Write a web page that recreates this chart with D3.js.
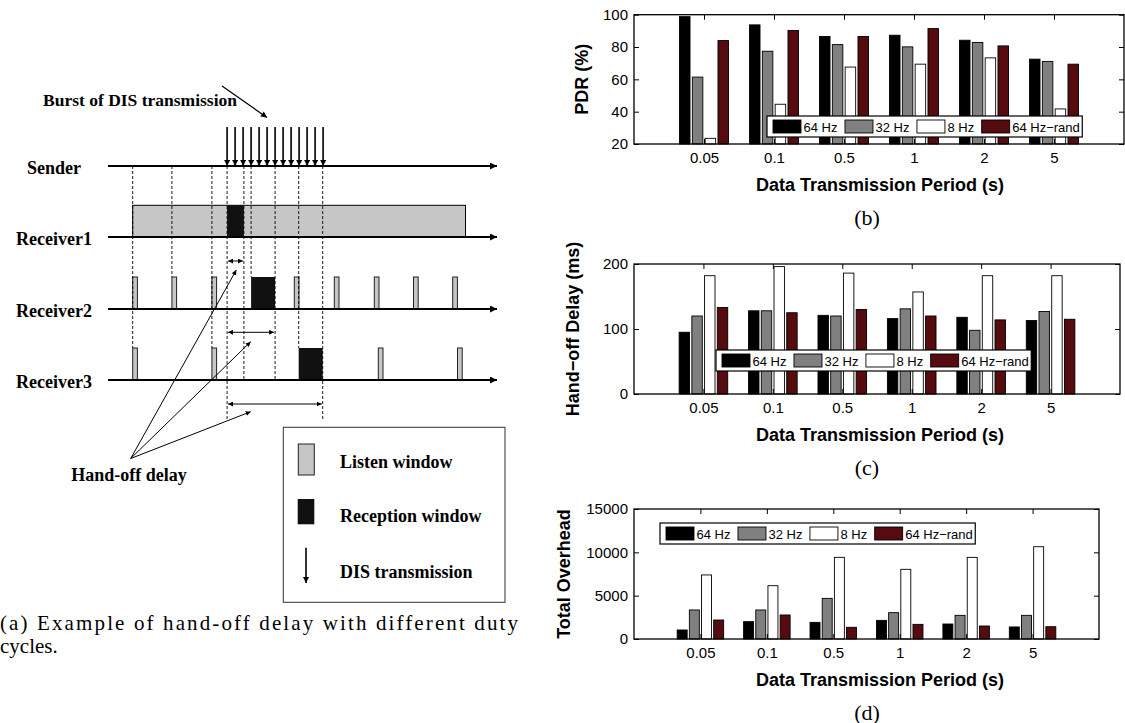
<!DOCTYPE html>
<meta charset="utf-8">
<style>
body { margin: 0; background: #fff; }
.lab { font-family: "Liberation Serif", "Times New Roman", serif; font-weight: bold; font-size: 18px; }
.cap { font-family: "Liberation Serif", "Times New Roman", serif; font-size: 21px; }
.leg { font-family: "Liberation Sans", Arial, sans-serif; font-size: 13px; }
.axlab { font-family: "Liberation Sans", Arial, sans-serif; font-weight: bold; font-size: 18px; }
</style>
<body>
<svg width="1125" height="723"></svg>
<script src="https://d3js.org/d3.v7.min.js"></script>
<script>

// ---- chart data ----
var periods = ["0.05", "0.1", "0.5", "1", "2", "5"];
var series = ["64 Hz", "32 Hz", "8 Hz", "64 Hz\u2212rand"];
var colors = ["#000000", "#808080", "#ffffff", "#560c0e"];

var pdr64   = [98.8, 93.7, 86.5, 87.3, 84.2, 72.5];
var pdr32   = [61.4, 77.4, 81.5, 80.1, 82.8, 71.1];
var pdr8    = [23.5, 44.6, 67.6, 69.4, 73.3, 41.7];
var pdrRand = [84.0, 90.2, 86.5, 91.4, 80.7, 69.4];
var pdrTicks = [20, 40, 60, 80, 100];

var delay64   = [95, 128, 121, 116, 118, 113];
var delay32   = [120, 128, 120, 131, 98, 127];
var delay8    = [182, 196, 186, 157, 182, 182];
var delayRand = [133, 125, 130, 120, 114, 115];
var delayTicks = [0, 100, 200];

var ovh64   = [1040, 2000, 1920, 2150, 1730, 1390];
var ovh32   = [3350, 3350, 4690, 3040, 2730, 2730];
var ovh8    = [7390, 6150, 9420, 8040, 9420, 10650];
var ovhRand = [2190, 2770, 1350, 1690, 1500, 1420];
var ovhTicks = [0, 5000, 10000, 15000];

// ---- diagram data (time in burst slots) ----
var burst = [11.8, 12.8, 13.8, 14.8, 15.8, 16.8, 17.8, 18.8, 19.8, 20.8, 21.8, 22.8, 23.8];
var r1Listen = [0, 41.6];
var r1Recv = [11.8, 13.9];
var r2Listen = [0, 4.9, 9.9, 20.2, 25.2, 30.2, 35.1, 40];
var r2Recv = [14.8, 17.8];
var r3Listen = [0, 9.9, 30.7, 40.6];
var r3Recv = [20.75, 23.75];
var guides = [[0, "r3top"], [4.9, "r2top"], [9.9, "r3top"], [11.8, "low"], [13.9, "r3"],
              [14.8, "r2top"], [17.8, "r3"], [20.75, "r3top"], [23.75, "low"]];
var delays = [[11.8, 13.9], [11.8, 17.8], [11.8, 23.75]];

var svg = d3.select("svg");
var defs = svg.append("defs");

function marker(id, w, h) {
  defs.append("marker").attr("id", id)
      .attr("viewBox", "0 0 10 10").attr("refX", 10).attr("refY", 5)
      .attr("markerWidth", w).attr("markerHeight", h)
      .attr("markerUnits", "userSpaceOnUse")
      .attr("orient", "auto-start-reverse")
    .append("path").attr("d", "M0,0L10,5L0,10z").attr("fill", "#000");
}
marker("big", 10, 7);
marker("mid", 7, 6);
marker("small", 5, 5);

// ================= left diagram =================
var tx = d3.scaleLinear().domain([0, 40]).range([132.7, 452.7]);
var lanes = [
  {name: "Sender", y: 166},
  {name: "Receiver1", y: 237},
  {name: "Receiver2", y: 309},
  {name: "Receiver3", y: 380}
];
var yAt = {r2top: 277, r3top: 348, r3: 380, low: 420};
var dg = svg.append("g");

// receiver1 long listen window
dg.append("rect")
    .attr("x", tx(r1Listen[0])).attr("y", 205.3)
    .attr("width", tx(r1Listen[1]) - tx(r1Listen[0])).attr("height", 237 - 205.3)
    .attr("fill", "#c6c6c6").attr("stroke", "#000").attr("stroke-width", 1);
dg.append("rect")
    .attr("x", tx(r1Recv[0])).attr("y", 205.3)
    .attr("width", tx(r1Recv[1]) - tx(r1Recv[0])).attr("height", 237 - 205.3)
    .attr("fill", "#111");

function listen(list, top, bot) {
  dg.selectAll(null).data(list).enter().append("rect")
      .attr("x", function(d) { return tx(d); }).attr("y", top)
      .attr("width", 4.7).attr("height", bot - top)
      .attr("fill", "#c6c6c6").attr("stroke", "#222").attr("stroke-width", 1);
}
listen(r2Listen, 277, 309);
listen(r3Listen, 348, 380);
dg.append("rect").attr("x", tx(r2Recv[0])).attr("y", 277)
    .attr("width", tx(r2Recv[1]) - tx(r2Recv[0])).attr("height", 32).attr("fill", "#111");
dg.append("rect").attr("x", tx(r3Recv[0])).attr("y", 348)
    .attr("width", tx(r3Recv[1]) - tx(r3Recv[0])).attr("height", 32).attr("fill", "#111");

// dashed guides
dg.selectAll(null).data(guides).enter().append("line")
    .attr("x1", function(d) { return tx(d[0]); }).attr("x2", function(d) { return tx(d[0]); })
    .attr("y1", 166).attr("y2", function(d) { return yAt[d[1]]; })
    .attr("stroke", "#000").attr("stroke-width", 0.9).attr("stroke-dasharray", "3,2");

// lane axes
dg.selectAll(null).data(lanes).enter().append("line")
    .attr("x1", 108).attr("x2", 497)
    .attr("y1", function(d) { return d.y; }).attr("y2", function(d) { return d.y; })
    .attr("stroke", "#000").attr("stroke-width", 2.2).attr("marker-end", "url(#big)");
dg.selectAll(null).data(lanes).enter().append("text")
    .attr("class", "lab").attr("text-anchor", "middle")
    .attr("x", 54).attr("y", function(d) { return d.y + 7.5; })
    .text(function(d) { return d.name; });

// burst arrows
dg.selectAll(null).data(burst).enter().append("line")
    .attr("x1", function(d) { return tx(d); }).attr("x2", function(d) { return tx(d); })
    .attr("y1", 127).attr("y2", 166)
    .attr("stroke", "#000").attr("stroke-width", 1.6).attr("marker-end", "url(#mid)");
dg.append("line").attr("x1", 222).attr("y1", 86).attr("x2", 267).attr("y2", 117.5)
    .attr("stroke", "#000").attr("stroke-width", 1.2).attr("marker-end", "url(#mid)");
dg.append("text").attr("class", "lab").attr("x", 140).attr("y", 106)
    .attr("text-anchor", "middle").style("font-size", "17.5px").text("Burst of DIS transmission");

// hand-off delay double arrows
var delayY = [261, 332.3, 404];
dg.selectAll(null).data(delays).enter().append("line")
    .attr("x1", function(d) { return tx(d[0]) + 1; }).attr("x2", function(d) { return tx(d[1]) - 1; })
    .attr("y1", function(d, i) { return delayY[i]; }).attr("y2", function(d, i) { return delayY[i]; })
    .attr("stroke", "#000").attr("stroke-width", 1)
    .attr("marker-start", "url(#small)").attr("marker-end", "url(#small)");
var ptr = [[236.3, 270], [250.7, 341.7], [250.7, 411.7]];
dg.selectAll(null).data(ptr).enter().append("line")
    .attr("x1", 130.7).attr("y1", 458.5)
    .attr("x2", function(d) { return d[0]; }).attr("y2", function(d) { return d[1]; })
    .attr("stroke", "#000").attr("stroke-width", 1).attr("marker-end", "url(#small)");
dg.append("text").attr("class", "lab").attr("x", 129).attr("y", 481)
    .attr("text-anchor", "middle").text("Hand-off delay");

// diagram legend
dg.append("rect").attr("x", 283.3).attr("y", 427.3).attr("width", 221.7).attr("height", 175)
    .attr("fill", "none").attr("stroke", "#333").attr("stroke-width", 1);
dg.append("rect").attr("x", 298.3).attr("y", 444).attr("width", 16).attr("height", 31)
    .attr("fill", "#c6c6c6").attr("stroke", "#222");
dg.append("rect").attr("x", 297.7).attr("y", 499).attr("width", 16.6).attr("height", 25.3)
    .attr("fill", "#111");
dg.append("line").attr("x1", 306).attr("x2", 306).attr("y1", 547.7).attr("y2", 583)
    .attr("stroke", "#000").attr("stroke-width", 1.6).attr("marker-end", "url(#mid)");
dg.append("text").attr("class", "lab").attr("x", 340).attr("y", 468).text("Listen window");
dg.append("text").attr("class", "lab").attr("x", 340).attr("y", 522).text("Reception window");
dg.append("text").attr("class", "lab").attr("x", 340).attr("y", 578).text("DIS transmission");

svg.append("text").attr("class", "cap").attr("x", 0).attr("y", 630)
    .attr("textLength", 518).attr("lengthAdjust", "spacing")
    .text("(a) Example of hand-off delay with different duty");
svg.append("text").attr("class", "cap").attr("x", 0).attr("y", 653).text("cycles.");

// ================= bar charts =================
function drawChart(c) {
  var g = svg.append("g");
  var x = d3.scaleLinear().domain([0, 7]).range([c.left, c.right]);
  var y = d3.scaleLinear().domain(c.domain).range([c.bottom, c.top]);
  var unit = x(1) - x(0);
  var inner = d3.scaleBand().domain(series).range([-0.35 * unit, 0.35 * unit]).paddingInner(0.18);
  var cats = periods.map(function(p, i) { return i + 1; });

  series.forEach(function(s, j) {
    g.selectAll(null).data(c.values[j]).enter().append("rect")
        .attr("x", function(d, i) { return x(i + 1) + inner(s); })
        .attr("width", inner.bandwidth())
        .attr("y", function(d) { return y(d); })
        .attr("height", function(d) { return y(c.domain[0]) - y(d); })
        .attr("fill", colors[j]).attr("stroke", "#000").attr("stroke-width", 0.9);
  });

  function style(a) {
    a.select(".domain").remove();
    a.selectAll(".tick line").attr("stroke", "#000");
    a.attr("font-family", "Liberation Sans, Arial, sans-serif").attr("font-size", 15);
    a.selectAll(".tick text").attr("fill", "#000");
  }
  g.append("g").attr("transform", "translate(0," + c.bottom + ")")
      .call(d3.axisBottom(x).tickValues(cats).tickFormat(function(d) { return periods[d - 1]; })
        .tickSizeInner(-5).tickSizeOuter(0).tickPadding(8.5)).call(style);
  g.append("g").attr("transform", "translate(0," + c.top + ")")
      .call(d3.axisTop(x).tickValues(cats).tickFormat("").tickSizeInner(-5).tickSizeOuter(0)).call(style);
  g.append("g").attr("transform", "translate(" + c.left + ",0)")
      .call(d3.axisLeft(y).tickValues(c.ticks).tickFormat(d3.format("d"))
        .tickSizeInner(-5).tickSizeOuter(0).tickPadding(6)).call(style);
  g.append("g").attr("transform", "translate(" + c.right + ",0)")
      .call(d3.axisRight(y).tickValues(c.ticks).tickFormat("").tickSizeInner(-5).tickSizeOuter(0)).call(style);

  g.append("rect").attr("x", c.left).attr("y", c.top)
      .attr("width", c.right - c.left).attr("height", c.bottom - c.top)
      .attr("fill", "none").attr("stroke", "#000").attr("stroke-width", 1.3);

  // legend
  var lg = g.append("g").attr("transform", "translate(" + c.legX + "," + c.legY + ")");
  var box = lg.append("rect").attr("height", 21).attr("fill", "#fff").attr("stroke", "#000").attr("stroke-width", 1.2);
  var cx = 6;
  series.forEach(function(s, j) {
    lg.append("rect").attr("x", cx).attr("y", 4).attr("width", 28).attr("height", 13)
        .attr("fill", colors[j]).attr("stroke", "#000").attr("stroke-width", 0.9);
    var t = lg.append("text").attr("class", "leg").attr("x", cx + 30.5).attr("y", 15.5).text(s);
    cx += 30.5 + t.node().getComputedTextLength() + 7.5;
  });
  box.attr("width", cx - 5);

  g.append("text").attr("class", "axlab").attr("text-anchor", "middle")
      .attr("transform", "translate(" + c.ylabX + "," + (c.top + c.bottom) / 2 + ") rotate(-90)")
      .text(c.ylabel);
  g.append("text").attr("class", "axlab").attr("text-anchor", "middle")
      .attr("x", 880).attr("y", c.bottom + 47).text("Data Transmission Period (s)");
  g.append("text").attr("class", "cap").attr("text-anchor", "middle").style("font-size", "22px")
      .attr("x", 867).attr("y", c.bottom + 80.5).text(c.caption);
}

drawChart({left: 634, right: 1124, top: 14.7, bottom: 144, domain: [20, 100], ticks: pdrTicks,
  values: [pdr64, pdr32, pdr8, pdrRand], ylabel: "PDR (%)", ylabX: 588,
  legX: 767, legY: 116, caption: "(b)"});
drawChart({left: 634, right: 1120, top: 264, bottom: 394, domain: [0, 200], ticks: delayTicks,
  values: [delay64, delay32, delay8, delayRand], ylabel: "Hand\u2212off Delay (ms)", ylabX: 579,
  legX: 716, legY: 350, caption: "(c)"});
drawChart({left: 634, right: 1099, top: 509, bottom: 639, domain: [0, 15000], ticks: ovhTicks,
  values: [ovh64, ovh32, ovh8, ovhRand], ylabel: "Total Overhead", ylabX: 570,
  legX: 660, legY: 523, caption: "(d)"});

</script>
</body>
</html>
